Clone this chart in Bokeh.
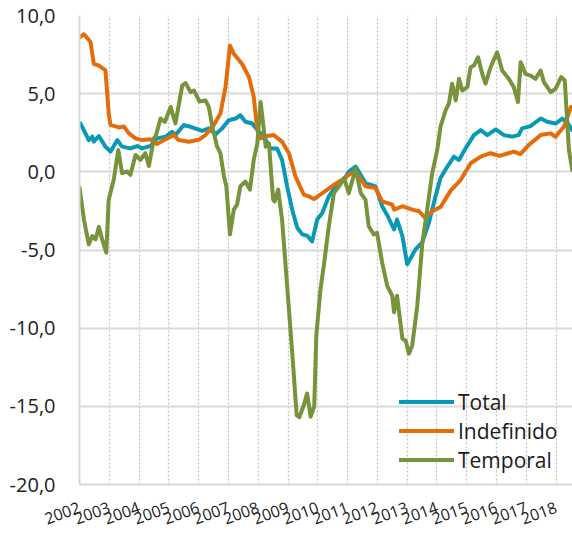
from bokeh.plotting import figure
from bokeh.models import Range1d, FixedTicker, Legend, LegendItem
from bokeh.embed import file_html
from bokeh.resources import INLINE
import math

# ---- data (decimal years, % year-on-year) ----
total_t = [2002.03, 2002.2, 2002.31, 2002.43, 2002.48, 2002.65, 2002.87, 2003.04, 2003.27, 2003.43,
           2003.71, 2003.94, 2004.1, 2004.38, 2004.6, 2004.89, 2005.11, 2005.22, 2005.5, 2005.73,
           2006.0, 2006.12, 2006.34, 2006.57, 2006.79, 2007.01, 2007.24, 2007.4, 2007.57, 2007.8,
           2007.97, 2008.19, 2008.41, 2008.63, 2008.8, 2008.97, 2009.14, 2009.31, 2009.48, 2009.65,
           2009.81, 2009.98, 2010.15, 2010.37, 2010.6, 2010.88, 2011.04, 2011.27, 2011.6, 2011.94,
           2012.16, 2012.35, 2012.56, 2012.66, 2012.84, 2013.0, 2013.28, 2013.5, 2013.73, 2013.95,
           2014.12, 2014.35, 2014.57, 2014.74, 2014.96, 2015.24, 2015.47, 2015.69, 2015.97, 2016.25,
           2016.53, 2016.74, 2016.86, 2017.14, 2017.48, 2017.7, 2017.98, 2018.21, 2018.4, 2018.53]
total_v = [3.1, 2.46, 2.03, 2.25, 1.93, 2.29, 1.61, 1.29, 2.03, 1.61,
           1.5, 1.65, 1.5, 1.65, 2.14, 2.25, 2.56, 2.35, 2.99, 2.88,
           2.7, 2.62, 2.78, 2.4, 2.78, 3.3, 3.41, 3.62, 3.2, 3.09,
           2.67, 2.25, 1.5, 1.5, 0.76, -0.93, -2.42, -3.58, -4.0, -4.1,
           -4.45, -3.05, -2.63, -1.57, -0.93, -0.5, 0.02, 0.34, -0.72, -0.93,
           -2.2, -2.84, -3.69, -3.05, -4.11, -5.91, -4.96, -4.53, -3.26, -1.57,
           -0.4, 0.34, 0.97, 0.76, 1.5, 2.35, 2.67, 2.35, 2.71, 2.35,
           2.25, 2.35, 2.78, 2.92, 3.41, 3.2, 3.09, 3.41, 3.09, 2.67]

indef_t = [2002.0, 2002.15, 2002.37, 2002.48, 2002.65, 2002.87, 2002.98, 2003.04, 2003.32, 2003.49,
           2003.66, 2003.88, 2004.1, 2004.38, 2004.6, 2004.89, 2005.17, 2005.33, 2005.67, 2006.0,
           2006.23, 2006.51, 2006.73, 2006.9, 2007.05, 2007.18, 2007.46, 2007.69, 2007.85, 2007.97,
           2008.08, 2008.3, 2008.52, 2008.8, 2009.03, 2009.25, 2009.53, 2009.7, 2009.87, 2010.2,
           2010.54, 2010.82, 2011.04, 2011.27, 2011.6, 2011.94, 2012.16, 2012.5, 2012.56, 2012.84,
           2013.17, 2013.4, 2013.6, 2013.84, 2014.12, 2014.46, 2014.8, 2015.13, 2015.47, 2015.8,
           2016.1, 2016.4, 2016.58, 2016.8, 2017.1, 2017.48, 2017.82, 2017.98, 2018.26, 2018.5]
indef_v = [8.6, 8.8, 8.3, 6.9, 6.8, 6.5, 3.75, 3.0, 2.84, 2.9,
           2.46, 2.14, 2.03, 2.08, 1.78, 2.08, 2.35, 2.03, 1.93, 2.05,
           2.35, 3.0, 3.73, 5.4, 8.07, 7.55, 6.9, 6.06, 4.79, 2.67,
           2.14, 2.29, 2.35, 1.93, 1.19, -0.3, -1.46, -1.57, -1.74, -1.3,
           -0.83, -0.51, -0.19, 0.02, -0.93, -1.04, -1.89, -2.1, -2.42, -2.2,
           -2.42, -2.52, -2.94, -2.52, -2.25, -1.2, -0.51, 0.55, 0.97, 1.19,
           1.02, 1.19, 1.29, 1.14, 1.75, 2.35, 2.46, 2.24, 2.88, 4.15]

temp_t = [2002.0, 2002.15, 2002.31, 2002.43, 2002.54, 2002.65, 2002.76, 2002.9, 2002.98, 2003.15,
          2003.3, 2003.43, 2003.6, 2003.71, 2003.88, 2004.04, 2004.21, 2004.33, 2004.5, 2004.57,
          2004.72, 2004.87, 2005.06, 2005.22, 2005.45, 2005.56, 2005.73, 2005.84, 2006.03, 2006.23,
          2006.34, 2006.46, 2006.62, 2006.73, 2006.85, 2006.93, 2007.05, 2007.18, 2007.29, 2007.4,
          2007.57, 2007.72, 2007.85, 2007.97, 2008.08, 2008.19, 2008.25, 2008.36, 2008.5, 2008.55,
          2008.67, 2008.8, 2008.97, 2009.14, 2009.29, 2009.38, 2009.53, 2009.64, 2009.76, 2009.88,
          2009.95, 2010.09, 2010.2, 2010.37, 2010.54, 2010.71, 2010.88, 2011.04, 2011.27, 2011.44,
          2011.6, 2011.71, 2011.88, 2011.99, 2012.16, 2012.33, 2012.5, 2012.56, 2012.66, 2012.84,
          2012.95, 2013.06, 2013.17, 2013.34, 2013.51, 2013.67, 2013.84, 2014.01, 2014.12, 2014.29,
          2014.4, 2014.51, 2014.63, 2014.74, 2014.85, 2015.02, 2015.13, 2015.24, 2015.38, 2015.52,
          2015.63, 2015.8, 2016.02, 2016.19, 2016.41, 2016.58, 2016.72, 2016.81, 2016.97, 2017.14,
          2017.31, 2017.48, 2017.59, 2017.82, 2017.98, 2018.17, 2018.29, 2018.43, 2018.54]
temp_v = [-1.0, -3.05, -4.64, -4.11, -4.32, -3.52, -4.32, -5.17, -1.78, -0.51,
          1.4, -0.08, 0.02, -0.19, 1.08, 0.76, 1.19, 0.38, 2.14, 2.35,
          3.41, 3.2, 4.15, 3.09, 5.53, 5.68, 5.1, 5.2, 4.5, 4.57,
          4.15, 2.88, 1.61, 1.19, -0.3, -0.93, -4.0, -2.42, -2.1, -0.93,
          -0.62, -1.14, 0.76, 1.82, 4.47, 2.67, 1.61, 1.82, -1.78, -1.89,
          -1.14, -3.05, -7.29, -11.53, -15.56, -15.7, -14.92, -14.18, -15.66, -15.0,
          -10.47, -7.5, -6.02, -3.48, -1.36, -0.93, -0.4, -1.36, 0.2, -1.36,
          -1.78, -3.48, -4.0, -3.9, -5.81, -7.29, -7.93, -8.98, -7.93, -10.68,
          -10.8, -11.63, -11.1, -8.56, -4.53, -2.42, -0.08, 1.4, 2.9, 3.94,
          4.36, 5.64, 4.57, 5.95, 5.2, 5.42, 6.69, 6.8, 7.33, 6.27,
          5.64, 6.69, 7.65, 6.48, 5.95, 5.42, 4.47, 7.01, 6.27, 6.16,
          5.95, 6.48, 5.74, 5.1, 5.31, 6.06, 5.85, 1.4, 0.13]

years = list(range(2002, 2019))
year_labels = [str(y) for y in years]
y_ticks = [-20, -15, -10, -5, 0, 5, 10]
y_labels = ["-20,0", "-15,0", "-10,0", "-5,0", "0,0", "5,0", "10,0"]

series_names = ["Total", "Indefinido", "Temporal"]
colors = ["#0799b5", "#e46c0a", "#77933c"]

FONT = "Open Sans"

p = figure(width=572, height=533, output_backend="svg", toolbar_location=None,
           x_range=Range1d(2002, 2018.55), y_range=Range1d(-20, 10),
           min_border_left=79, min_border_right=0, min_border_top=15, min_border_bottom=46)
p.outline_line_color = None
p.background_fill_color = "white"

# y axis
p.yaxis.ticker = FixedTicker(ticks=y_ticks)
p.yaxis.major_label_overrides = {t: l for t, l in zip(y_ticks, y_labels)}
p.yaxis.major_label_text_font = FONT
p.yaxis.major_label_text_font_size = "20px"
p.yaxis.major_label_text_color = "#222222"
p.yaxis.major_label_standoff = 18
p.yaxis.axis_line_color = "#d9d9d9"
p.yaxis.axis_line_width = 2
p.yaxis.major_tick_line_color = None
p.yaxis.minor_tick_line_color = None

# x axis
p.xaxis.ticker = FixedTicker(ticks=years)
p.xaxis.major_label_overrides = {y: l for y, l in zip(years, year_labels)}
p.xaxis.major_label_orientation = math.radians(20)
p.xaxis.major_label_text_font = FONT
p.xaxis.major_label_text_font_size = "16px"
p.xaxis.major_label_text_color = "#222222"
p.xaxis.major_label_standoff = 16
p.xaxis.axis_line_color = "#d9d9d9"
p.xaxis.axis_line_width = 2
p.xaxis.major_tick_line_color = None
p.xaxis.minor_tick_line_color = None

# grids
p.ygrid.ticker = FixedTicker(ticks=y_ticks)
p.ygrid.grid_line_color = "#d9d9d9"
p.ygrid.grid_line_width = 2
p.xgrid.ticker = FixedTicker(ticks=years[1:])
p.xgrid.grid_line_color = "#c4c4c4"
p.xgrid.grid_line_width = 1.3
p.xgrid.grid_line_dash = "2 2"

renderers = []
for t, v, c in zip([total_t, indef_t, temp_t], [total_v, indef_v, temp_v], colors):
    r = p.line(t, v, line_color=c, line_width=4, line_join="round", line_cap="round")
    renderers.append(r)

legend = Legend(items=[LegendItem(label=n, renderers=[r]) for n, r in zip(series_names, renderers)],
                location=(320, 10))
legend.background_fill_alpha = 0
legend.border_line_alpha = 0
legend.padding = 0
legend.margin = 0
legend.spacing = 0
legend.glyph_width = 55
legend.glyph_height = 29
legend.label_height = 29
legend.label_standoff = 4
legend.label_text_font = FONT
legend.label_text_font_size = "21px"
legend.label_text_color = "#1a1a1a"
p.add_layout(legend)

open("out.html", "w").write(file_html(p, INLINE))
